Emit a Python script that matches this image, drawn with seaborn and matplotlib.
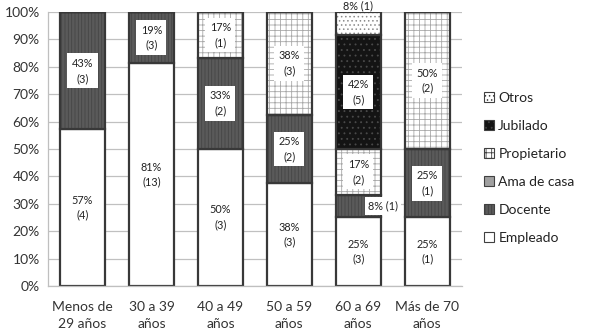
import matplotlib
matplotlib.use("Agg")
import matplotlib.pyplot as plt
import seaborn as sns
import numpy as np
import pandas as pd
from matplotlib.patches import Patch

categories = ["Menos de\n29 años", "30 a 39\naños", "40 a 49\naños", "50 a 59\naños", "60 a 69\naños", "Más de 70\naños"]
series = ["Empleado", "Docente", "Ama de casa", "Propietario", "Jubilado", "Otros"]

# counts per series (number in parentheses)
empleado    = [4, 13, 3, 3, 3, 1]
docente     = [3, 3, 2, 2, 1, 1]
ama_de_casa = [0, 0, 0, 0, 0, 0]
propietario = [0, 0, 1, 3, 2, 2]
jubilado    = [0, 0, 0, 0, 5, 0]
otros       = [0, 0, 0, 0, 1, 0]

# percentage labels as printed
pct_empleado    = ["57%", "81%", "50%", "38%", "25%", "25%"]
pct_docente     = ["43%", "19%", "33%", "25%", "8%", "25%"]
pct_propietario = ["", "", "17%", "38%", "17%", "50%"]
pct_jubilado    = ["", "", "", "", "42%", ""]
pct_otros       = ["", "", "", "", "8%", ""]

counts = pd.DataFrame({
    "Empleado": empleado, "Docente": docente, "Ama de casa": ama_de_casa,
    "Propietario": propietario, "Jubilado": jubilado, "Otros": otros,
}, index=categories)
shares = counts.div(counts.sum(axis=1), axis=0) * 100
labels = {"Empleado": pct_empleado, "Docente": pct_docente,
          "Propietario": pct_propietario, "Jubilado": pct_jubilado, "Otros": pct_otros}

styles = {
    "Empleado":    dict(face="#ffffff", hatch=None,     hcol="#404040"),
    "Docente":     dict(face="#5a5a5a", hatch="|||||",  hcol="#454545"),
    "Ama de casa": dict(face="#a0a0a0", hatch=None,     hcol="#a0a0a0"),
    "Propietario": dict(face="#ffffff", hatch="+++",    hcol="#a8a8a8"),
    "Jubilado":    dict(face="#141414", hatch="...",    hcol="#4a4a4a"),
    "Otros":       dict(face="#ffffff", hatch="....",   hcol="#8a8a8a"),
}

sns.set_theme(style="white")
plt.rcParams["font.family"] = ["Lato", "DejaVu Sans"]
plt.rcParams["hatch.linewidth"] = 0.6

fig = plt.figure(figsize=(5.89, 3.36), dpi=100)
ax = fig.add_axes([0.0815, 0.149, 0.7025, 0.815])

ax.set_axisbelow(True)
ax.yaxis.grid(True, color="#c0c0c0", linewidth=0.9)

bottom = np.zeros(len(categories))
width = 0.65
for s in series:
    vals = shares[s].values
    st = styles[s]
    df = pd.DataFrame({"cat": categories, "val": vals})
    sns.barplot(data=df, x="cat", y="val", bottom=bottom, color=st["face"], ax=ax,
                width=width, hatch=st["hatch"], edgecolor=st["hcol"], linewidth=0.0,
                saturation=1, errorbar=None)
    # dark outline pass
    sns.barplot(data=df, x="cat", y="val", bottom=bottom, ax=ax, width=width,
                color="#383838", linewidth=1.6, errorbar=None, saturation=1,
                fill=False)
    # labels
    if s in labels:
        for i, (v, lab) in enumerate(zip(vals, labels[s])):
            if not lab or v == 0:
                continue
            n = counts[s].iloc[i]
            yc = bottom[i] + v / 2
            if s == "Otros" and i == 4:
                ax.text(i, 102.4, f"{lab} ({n})", ha="center", va="center", fontsize=7.8,
                        color="#222222", clip_on=False)
            elif s == "Docente" and i == 4:
                ax.text(i + 0.36, yc, f"{lab} ({n})", ha="center", va="center", fontsize=7.8,
                        color="#222222",
                        bbox=dict(boxstyle="square,pad=0.3", fc="white", ec="none"))
            else:
                ax.text(i, yc, f"{lab}\n({n})", ha="center", va="center", fontsize=7.8,
                        color="#222222", linespacing=1.45,
                        bbox=dict(boxstyle="square,pad=0.4", fc="white", ec="none"))
    bottom = bottom + vals

ax.set_ylim(0, 100)
ax.set_xlim(-0.5, len(categories) - 0.5)
ax.set_yticks(np.arange(0, 101, 10))
ax.set_yticklabels([f"{t}%" for t in range(0, 101, 10)])
ax.set_xlabel("")
ax.set_ylabel("")
ax.tick_params(axis="y", labelsize=10, colors="#333333", length=0, pad=6)
ax.tick_params(axis="x", labelsize=10, colors="#333333", length=0, pad=11)
for lab in ax.get_xticklabels():
    lab.set_linespacing(1.5)
for side in ["top", "right"]:
    ax.spines[side].set_visible(False)
ax.spines["left"].set_color("#bfbfbf")
ax.spines["bottom"].set_color("#bfbfbf")
ax.spines["left"].set_linewidth(0.9)
ax.spines["bottom"].set_linewidth(0.9)

handles = []
for s in reversed(series):
    st = styles[s]
    handles.append(Patch(facecolor=st["face"], hatch=st["hatch"], edgecolor="#404040",
                         linewidth=0.8, label=s))
fig.legend(handles=handles, loc="center left", bbox_to_anchor=(0.80, 0.50),
           frameon=False, fontsize=10, handlelength=0.75, handleheight=0.75,
           handletextpad=0.3, labelspacing=1.15, labelcolor="#222222")

fig.savefig("out.png", dpi=100)
